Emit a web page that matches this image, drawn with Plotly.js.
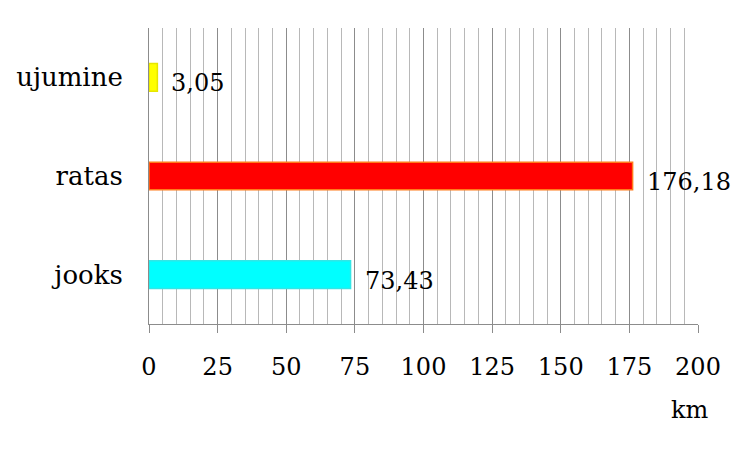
<!DOCTYPE html>
<html>
<head>
<meta charset="utf-8">
<script src="https://cdn.plot.ly/plotly-3.0.1.min.js"></script>
<style>html,body{margin:0;padding:0;background:#fff;}</style>
</head>
<body>
<div id="chart" style="width:751px;height:451px;"></div>
<script>
const categories = ['jooks', 'ratas', 'ujumine'];
const values = [73.43, 176.18, 3.05];
const valueLabels = ['73,43', '176,18', '3,05'];
const barColors = ['#00ffff', '#ff0000', '#ffff00'];
const barLineColors = ['#33e6e6', '#ff7a1a', '#e6e600'];
const tickVals = [0, 25, 50, 75, 100, 125, 150, 175, 200];
const tickText = ['0', '25', '50', '75', '100', '125', '150', '175', '200'];
const unitLabel = 'km';

const font = {family: '"DejaVu Serif", Georgia, serif', size: 24, color: '#000'};
const catFont = {family: '"DejaVu Serif", Georgia, serif', size: 26, color: '#000'};

const trace = {
  type: 'bar',
  orientation: 'h',
  y: categories,
  x: values,
  width: 0.28,
  marker: {color: barColors, line: {color: barLineColors, width: 1.5}},
  hoverinfo: 'none'
};

const annotations = categories.map((c, i) => ({
  x: values[i], y: c, xref: 'x', yref: 'y',
  text: valueLabels[i], showarrow: false,
  xanchor: 'left', yanchor: 'middle', xshift: 12, yshift: -6,
  font: font
}));
annotations.push({
  x: 1, y: 0, xref: 'paper', yref: 'paper',
  text: unitLabel, showarrow: false,
  xanchor: 'center', yanchor: 'middle', xshift: -8, yshift: -86,
  font: font
});

const layout = {
  width: 751, height: 451,
  margin: {l: 149, r: 53, t: 28, b: 127},
  paper_bgcolor: '#fff', plot_bgcolor: '#fff',
  showlegend: false,
  font: font,
  xaxis: {
    range: [0, 200],
    tickvals: tickVals, ticktext: tickText,
    ticks: 'outside', ticklen: 8, tickcolor: '#8c8c8c', tickwidth: 1,
    showgrid: true, gridcolor: '#8c8c8c', gridwidth: 1,
    minor: {dtick: 5, showgrid: true, gridcolor: '#b8b8b8', gridwidth: 1, ticks: ''},
    showline: true, linecolor: '#8c8c8c', linewidth: 1,
    zeroline: false,
    ticklabelstandoff: 13,
    tickfont: font,
    fixedrange: true
  },
  yaxis: {
    type: 'category',
    categoryorder: 'array', categoryarray: categories,
    range: [-0.5, 2.5],
    showgrid: false, zeroline: false,
    showline: true, linecolor: '#8c8c8c', linewidth: 1,
    ticks: '', ticklabelstandoff: 20,
    tickfont: catFont,
    fixedrange: true
  },
  annotations: annotations
};

Plotly.newPlot('chart', [trace], layout, {displayModeBar: false, staticPlot: true});
</script>
</body>
</html>
